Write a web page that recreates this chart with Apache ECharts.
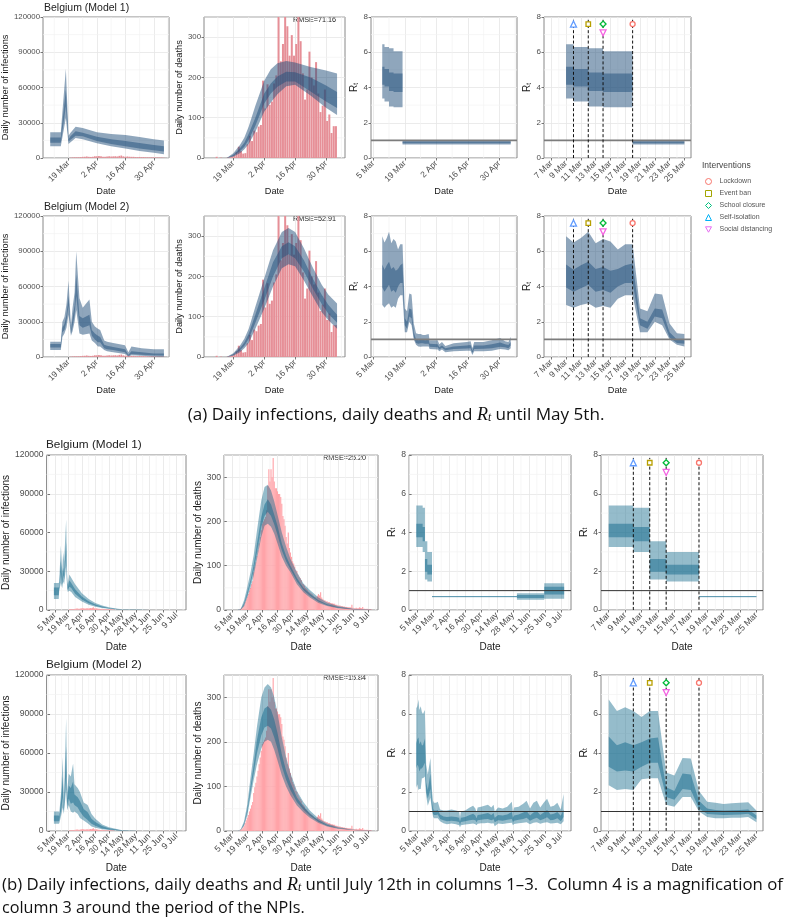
<!DOCTYPE html>
<html>
<head>
<meta charset="utf-8">
<style>html,body{margin:0;padding:0;background:#fff}#c{width:792px;height:917px}</style>
<script src="https://cdn.jsdelivr.net/npm/echarts@6/dist/echarts.min.js"></script>
</head>
<body>
<div id="c"></div>
<script>
// Day index: 1 = 1 Mar, 32 = 1 Apr, 62 = 1 May, 93 = 1 Jun, 123 = 1 Jul
const ticksMay = [19,33,47,61];
const ticksMayR = [5,19,33,47,61];
const ticksJul = [5,19,33,47,61,75,89,103,117,131];
const ticksZoom = [7,9,11,13,15,17,19,21,23,25];
const ticksInf = [0,30000,60000,90000,120000];
const ticksDeaths = [0,100,200,300];
const ticksRt = [0,2,4,6,8];

// Reported daily deaths
const deathsMayStart = 11.5;
const deathsMay = [3,0,1,0,0,1,2,4,7,14,28,17,11,12,34,55,42,68,64,78,
 82,192,123,183,132,140,185,205,403,240,283,365,327,254,305,254,283,380,290,210,145,170,264,200,180,238,160,114,130,170,
 92,108,62,79,79];
const deathsJulStart = 12;
const deathsJul = [1,3,5,8,12,18,24,30,36,44,50,58,65,85,98,108,122,135,150,165,
 180,195,200,205,210,225,280,318,290,318,300,343,290,275,275,268,262,262,255,240,212,205,190,165,150,175,140,130,120,110,
 105,98,90,88,80,75,72,68,60,58,55,50,48,45,42,40,38,36,33,30,30,28,32,36,33,40,28,25,22,22,20,
 20,18,18,16,15,15,14,14,12,12,11,10,10,9,9,8,8,7,7,6,6,6,6,12,5,4,4,5,4,4,
 6,5,4,7,3,3,2,3,2,2,2,1];
// Reported daily cases
const casesStart = 20;
const cases = [300,500,600,580,620,750,1000,1050,1300,1000,900,1000,1400,1400,1600,1400,1100,1100,1300,1400,1200,1400,1500,1300,1800,2100,1400,1100,1300,1100,1000,1000,800,700,900,700,800,600,600,550,600,600,500,500,400,350,300];

// Infections, Model 1, until 5 May
const inf1Day = [10,15.2,17.7,19,20,22.5,26,33,40,47,54,61,66];
const inf1Hi95 = [22000,22000,76000,19000,21500,26500,25500,22000,20500,19500,17800,16000,14800];
const inf1Lo95 = [10000,10000,34000,12000,13500,17000,16000,12500,10000,8000,6000,4500,3200];
const inf1Hi50 = [17500,17500,58000,16000,18500,22800,21500,18000,16000,14500,12800,11000,10000];
const inf1Lo50 = [13000,13000,44000,14000,15500,19000,18500,14500,12000,10000,8000,6500,5500];
// Infections, Model 2, until 5 May
const inf2Day = [10,15.2,16,17,18,19,20.2,21,22,22.8,24.4,26,29.3,30.5,32,33.5,34.6,36.6,38,41,46.8,48.5,50,55,61,66];
const inf2Hi95 = [13000,13000,30000,34000,45000,65000,27000,42000,55000,90000,50000,42000,49000,30000,26000,24000,23000,14000,13000,12000,10000,4000,9000,7500,6500,6500];
const inf2Lo95 = [6000,6000,17000,20000,25000,36000,18000,22000,30000,40000,20000,19000,20000,14000,12000,9000,9000,6000,5000,4000,2500,500,1500,1000,500,300];
const inf2Hi50 = [11000,11000,25000,28000,36000,52000,22000,33000,44000,70000,35000,33000,36000,23000,20000,18000,17000,10500,9500,8500,6500,2000,5000,4000,3000,3000];
const inf2Lo50 = [8000,8000,21000,23000,30000,44000,20000,26000,36000,52000,27000,25000,27000,18000,15000,12500,12500,7500,6500,6000,4000,1000,2500,2000,1500,1200];
// Infections, Model 1, until 12 Jul
const inf3Day = [4,9,9.5,11.2,12.6,13.6,14.6,16.7,17.7,18.4,20,22,26,33,40,47,54,61,68,75,89,103,133];
const inf3Hi95 = [21000,21000,22000,50000,30000,45000,38000,70000,28000,20000,27500,25000,20000,13000,8500,5500,3500,2200,1200,600,150,40,0];
const inf3Lo95 = [8500,8500,15000,21000,17000,22000,20000,34000,17000,14000,15000,14000,10000,6500,4000,2500,1500,900,500,250,60,20,0];
const inf3Hi50 = [17500,17500,18000,38000,24000,33000,28000,52000,22000,17000,23000,21000,16000,10500,6800,4200,2700,1600,900,450,110,30,0];
const inf3Lo50 = [11500,11500,16500,29000,20000,27000,24000,42000,19000,15500,18000,17000,12500,8200,5200,3200,2000,1200,650,320,80,25,0];
// Infections, Model 2, until 12 Jul
const inf4Day = [4,9,9.6,11.5,13.2,14.3,16.7,17.7,19.4,21.5,23.9,25.3,28.7,31,34.9,39,43,47,54,61,75,93,133];
const inf4Hi95 = [15000,15000,14000,30000,57000,20000,87000,30000,44000,42000,52000,36000,33000,30000,22000,20000,13000,9500,5000,2800,600,80,0];
const inf4Lo95 = [5500,5500,6000,12000,18000,13000,32000,16000,20000,15000,14000,15000,13000,10000,8000,6000,3500,2500,1300,800,150,20,0];
const inf4Hi50 = [12000,12000,11000,24000,42000,18000,65000,25000,35000,33000,38000,28000,26000,23000,17000,14500,9500,7000,3800,2100,450,60,0];
const inf4Lo50 = [7500,7500,8000,16000,26000,15000,42000,19000,25000,21000,22000,20000,18000,15000,11000,8500,5500,4000,2000,1200,250,30,0];

// Modelled deaths, Model 1, until 5 May
const dea1Day = [16,19,22,24,26,29,33,36,39,43,47,54,61,66];
const dea1Hi95 = [0,12,32,50,78,130,192,220,235,241,237,226,217,210];
const dea1Hi50 = [0,8,24,38,60,100,160,185,202,214,213,200,180,164];
const dea1Lo50 = [0,5,17,28,45,80,135,160,177,190,190,165,140,124];
const dea1Lo95 = [0,3,12,22,35,65,115,138,158,178,182,155,125,107];
// Modelled deaths, Model 2, until 5 May
const dea2Day = [16,19,22,24,26,29,33,37,41,44,47,51,55,59,62,66];
const dea2Hi95 = [0,9,28,45,70,125,195,265,310,320,310,270,222,180,155,133];
const dea2Hi50 = [0,7,22,36,58,105,170,235,275,285,275,240,195,155,130,105];
const dea2Lo50 = [0,5,16,28,45,85,140,200,245,255,245,212,170,132,108,85];
const dea2Lo95 = [0,3,12,22,35,70,120,175,220,230,225,190,150,112,92,70];
// Modelled deaths until 12 Jul
const deaJulDay = [10,13,16,19,22,25,28,32,35,38,41,44,47,51,55,59,65,71,77,85,93,103,117,134];
const dea3Hi95 = [0,3,22,52,85,125,180,248,278,283,270,245,215,175,143,115,85,60,45,28,17,9,3,0.5];
const dea3Hi50 = [0,2,15,40,68,103,150,210,238,250,238,215,190,150,122,100,72,50,37,22,13,7,2,0.3];
const dea3Lo50 = [0,1,12,34,60,90,130,188,212,222,212,193,170,135,110,92,65,45,32,19,11,5,1.5,0.2];
const dea3Lo95 = [0,1,8,28,50,78,115,165,190,195,188,172,150,120,100,85,58,40,28,16,9,4,1,0];
const dea4Hi95 = [0,4,22,60,120,175,235,300,322,330,322,300,265,210,165,130,90,65,46,28,17,9,3,0.5];
const dea4Hi50 = [0,3,17,48,100,150,205,255,275,280,272,250,220,172,135,108,75,55,39,24,14,7,3,0.3];
const dea4Lo50 = [0,2,14,42,88,130,175,215,232,236,230,210,185,145,115,92,65,48,34,21,12,6,2,0.2];
const dea4Lo95 = [0,2,12,35,75,115,150,185,200,205,200,182,158,125,100,80,57,42,30,18,10,5,2,0];

// Rt, Model 1, until 5 May
const rt1Day =  [9,10,10,12,12,14,14,18,18,25,66];
const rt1Hi95 = [6.45,6.45,6.3,6.3,6.22,6.22,6.05,6.05,1.0,1.0,1.0];
const rt1Lo95 = [3.37,3.37,3.2,3.2,2.92,2.92,2.88,2.88,0.76,0.76,0.76];
const rt1Hi50 = [5.18,5.18,5.05,5.05,4.85,4.85,4.8,4.8,0.94,0.94,0.94];
const rt1Lo50 = [4.15,4.15,4.05,4.05,3.8,3.8,3.75,3.75,0.83,0.83,0.83];
// Rt, Model 2, until 5 May
const rt2Day =  [9,10,11,12,13,14,15,16,17,18,19,20,21,22,23,24,25,26,27,28,29.6,30,33.6,34.3,35.5,37,40.7,46.5,48.2,49,49.8,53.9,57.6,61.3,63.5,65,66];
const rt2Hi95 = [6.85,6.5,6.75,7.1,6.45,6.7,6.55,6.1,6.4,6.4,2.75,2.6,3.6,3.55,1.9,1.35,1.3,1.3,1.25,1.25,1.3,0.95,0.95,0.72,0.85,0.62,0.78,0.85,0.9,0.5,0.85,0.85,0.95,1.08,0.9,0.85,1.15];
const rt2Lo95 = [2.95,2.8,2.95,3.05,2.8,2.9,2.8,3.3,3.5,3.5,1.4,1.4,2.0,1.8,1.0,0.7,0.6,0.58,0.6,0.6,0.6,0.45,0.42,0.32,0.42,0.27,0.33,0.35,0.35,0.12,0.32,0.32,0.36,0.45,0.42,0.38,0.5];
const rt2Hi50 = [5.25,4.95,5.2,5.4,5.0,5.1,4.9,5.0,5.2,5.3,2.2,2.0,2.75,2.7,1.4,1.0,0.95,0.98,0.98,0.95,0.98,0.75,0.72,0.55,0.65,0.5,0.6,0.65,0.68,0.35,0.65,0.65,0.72,0.82,0.72,0.68,0.85];
const rt2Lo50 = [3.95,3.7,3.9,4.1,3.7,3.8,3.65,4.0,4.2,4.2,1.8,1.6,2.3,2.2,1.1,0.8,0.75,0.78,0.78,0.75,0.75,0.58,0.55,0.42,0.52,0.38,0.45,0.48,0.5,0.22,0.45,0.47,0.5,0.58,0.55,0.5,0.65];
// Rt, Model 1, until 12 Jul (wide panel)
const rt3wDay =  [4.1,9.7,9.7,11.7,11.7,13.8,13.8,17.9,17.9,92.5,92.5,116.5,116.5,134];
const rt3wHi95 = [5.4,5.4,5.28,5.28,3.55,3.55,3.0,3.0,0.72,0.72,0.87,0.87,1.38,1.38];
const rt3wLo95 = [3.25,3.25,3.0,3.0,1.58,1.58,1.47,1.47,0.66,0.66,0.53,0.53,0.58,0.58];
const rt3wHi50 = [4.45,4.45,4.28,4.28,2.63,2.63,2.33,2.33,0.71,0.71,0.78,0.78,1.2,1.2];
const rt3wLo50 = [3.75,3.75,3.55,3.55,1.97,1.97,1.83,1.83,0.67,0.67,0.62,0.62,0.8,0.8];
// Rt, Model 1, magnified
const rt3zDay =  [7,10,10,12,12,14,14,18,18,25];
const rt3zHi95 = [5.4,5.4,5.28,5.28,3.55,3.55,3.0,3.0,0.72,0.72];
const rt3zLo95 = [3.25,3.25,3.0,3.0,1.58,1.58,1.47,1.47,0.66,0.66];
const rt3zHi50 = [4.45,4.45,4.28,4.28,2.63,2.63,2.33,2.33,0.71,0.71];
const rt3zLo50 = [3.75,3.75,3.55,3.55,1.97,1.97,1.83,1.83,0.67,0.67];
// Rt, Model 2, until 12 Jul (wide panel)
const rt4wDay =  [4.1,5,6,6.8,8,9,10,11.6,12.8,14.2,16.5,18,18.8,19.6,20.5,21.5,23,25,28,31,35,39,41.7,42.5,43.3,47,51,54,56,57,58,61,64,67,70,72,73,76,80,84,88,89,90,94,98,101,104,107,110,113,116,119,122,125,128,131,133.5];
const rt4wHi95 = [6.3,6.4,6.75,6.2,6.4,6.1,6.0,6.2,3.4,2.9,3.75,2.0,1.55,1.45,1.45,1.45,1.5,1.1,1.05,1.05,1.1,1.05,1.0,0.7,1.0,1.05,1.2,1.3,1.15,0.95,1.2,1.25,1.3,1.35,1.2,1.35,1.0,1.2,1.15,1.25,1.5,0.95,1.2,1.25,1.4,1.55,1.15,1.45,1.55,1.2,1.45,1.65,1.25,1.3,1.45,1.1,1.9];
const rt4wLo95 = [2.2,2.4,2.1,2.15,2.15,2.7,2.7,2.8,1.8,1.3,1.7,1.0,0.75,0.65,0.65,0.65,0.65,0.5,0.4,0.35,0.38,0.35,0.3,0.18,0.3,0.33,0.36,0.38,0.35,0.3,0.37,0.4,0.4,0.42,0.38,0.4,0.25,0.38,0.36,0.4,0.42,0.3,0.36,0.4,0.42,0.45,0.35,0.42,0.45,0.37,0.42,0.45,0.38,0.4,0.42,0.35,0.5];
const rt4wHi50 = [4.5,4.7,4.8,4.45,4.6,4.4,4.4,4.75,2.5,2.1,2.95,1.5,1.15,1.05,1.05,1.05,1.08,0.85,0.75,0.72,0.75,0.72,0.68,0.48,0.68,0.72,0.82,0.88,0.8,0.65,0.82,0.85,0.88,0.92,0.82,0.92,0.68,0.82,0.8,0.85,0.98,0.68,0.8,0.85,0.95,1.02,0.8,0.95,1.02,0.82,0.95,1.08,0.85,0.88,0.98,0.78,1.1];
const rt4wLo50 = [3.2,3.4,3.3,3.05,3.2,3.2,3.3,3.5,2.0,1.65,2.15,1.15,0.88,0.82,0.82,0.82,0.85,0.62,0.55,0.5,0.52,0.5,0.46,0.3,0.46,0.5,0.55,0.58,0.55,0.45,0.55,0.58,0.6,0.62,0.55,0.6,0.45,0.55,0.53,0.58,0.62,0.45,0.53,0.58,0.62,0.68,0.52,0.62,0.68,0.55,0.62,0.7,0.55,0.58,0.65,0.5,0.72];
// Rt, Model 2, magnified
const rt4zDay =  [7,8,9,10,11,12,13,14,15,16,17,18,19,20,21,22,23,24,25];
const rt4zHi95 = [6.75,6.15,6.35,6.15,5.85,6.15,6.15,3.0,2.85,3.75,3.72,2.05,1.5,1.45,1.38,1.42,1.45,1.47,1.05];
const rt4zLo95 = [2.35,2.1,2.15,2.1,2.65,2.7,2.7,1.35,1.25,1.75,1.75,1.0,0.72,0.65,0.65,0.68,0.68,0.72,0.45];
const rt4zHi50 = [4.85,4.4,4.55,4.4,4.55,4.75,4.8,2.25,2.05,2.95,2.9,1.55,1.15,1.08,1.05,1.07,1.08,1.1,0.8];
const rt4zLo50 = [3.3,3.05,3.1,3.05,3.3,3.5,3.5,1.75,1.6,2.15,2.1,1.15,0.87,0.85,0.82,0.83,0.85,0.88,0.6];

// Interventions
const interventions = ['Lockdown','Event ban','School closure','Self-isolation','Social distancing'];
const interventionDay = [18,12,14,10,14];
const interventionY = [7.6,7.6,7.6,7.6,7.1];
const npiLines = [10,12,14,18];
const rmse = ['RMSE=71.16','RMSE=52.91','RMSE=25.20','RMSE=15.84'];

const triDown = 'path://M0 0L10 0L5 9Z';
const squareIcon = 'path://M0 0L10 0L10 10L0 10Z';
const markerSymbols = ['circle',squareIcon,'diamond','triangle',triDown];
const markerColors = ['#F8766D','#B79F00','#00BA38','#619CFF','#F564E3'];
const legendColors = ['#F8766D','#A3A500','#00BF7D','#00B0F6','#E76BF3'];

const FONT = '"Liberation Sans", Arial, sans-serif';
const TICK = '#4d4d4d';
const bandA = {o:'rgba(31,78,121,0.5)', i:'rgba(31,78,121,0.5)', bar:'#e68f97', line:'#7c7c7c', lw:1.6};
const bandB = {o:'rgba(10,100,135,0.43)', i:'rgba(10,100,135,0.47)', bar:'#ffa3a8', line:'#333333', lw:1};

function dateLabel(d){
  if (d<=31) return d+' Mar';
  if (d<=61) return (d-31)+' Apr';
  if (d<=92) return (d-61)+' May';
  if (d<=122) return (d-92)+' Jun';
  return (d-122)+' Jul';
}
function seq(start,vals){ return vals.map((v,i)=>[start+i,v]); }

const rowsY = [[17,158],[216,357],[455,610],[675,831]];
const colsA = [[43,169,6.44,68.5],[204,345,5.74,69.6],[371,517,4,68.8],[544,691,6.01,25.9]];
const colsB = [[46,186,-3.6,141],[224,378,-2.6,140.2],[409,571,-2.3,140],[601,763,6.06,25.8]];

const band = (d,a,b,c,e)=>({d,lo95:a,hi95:b,lo50:c,hi50:e});
const panelData = [
 [band(inf1Day,inf1Lo95,inf1Hi95,inf1Lo50,inf1Hi50),band(dea1Day,dea1Lo95,dea1Hi95,dea1Lo50,dea1Hi50),band(rt1Day,rt1Lo95,rt1Hi95,rt1Lo50,rt1Hi50),band(rt1Day,rt1Lo95,rt1Hi95,rt1Lo50,rt1Hi50)],
 [band(inf2Day,inf2Lo95,inf2Hi95,inf2Lo50,inf2Hi50),band(dea2Day,dea2Lo95,dea2Hi95,dea2Lo50,dea2Hi50),band(rt2Day,rt2Lo95,rt2Hi95,rt2Lo50,rt2Hi50),band(rt2Day,rt2Lo95,rt2Hi95,rt2Lo50,rt2Hi50)],
 [band(inf3Day,inf3Lo95,inf3Hi95,inf3Lo50,inf3Hi50),band(deaJulDay,dea3Lo95,dea3Hi95,dea3Lo50,dea3Hi50),band(rt3wDay,rt3wLo95,rt3wHi95,rt3wLo50,rt3wHi50),band(rt3zDay,rt3zLo95,rt3zHi95,rt3zLo50,rt3zHi50)],
 [band(inf4Day,inf4Lo95,inf4Hi95,inf4Lo50,inf4Hi50),band(deaJulDay,dea4Lo95,dea4Hi95,dea4Lo50,dea4Hi50),band(rt4wDay,rt4wLo95,rt4wHi95,rt4wLo50,rt4wHi50),band(rt4zDay,rt4zLo95,rt4zHi95,rt4zLo50,rt4zHi50)]
];

const grids=[],xAxes=[],yAxes=[],series=[];

function polySeries(idx,xs,lo,hi,color,z,maxX){
  const rows=[];
  xs.forEach((x,k)=>{ if(x<=maxX) rows.push([x,lo[k],hi[k]]); });
  series.push({
    type:'custom', xAxisIndex:idx, yAxisIndex:idx, clip:true, silent:true, z, animation:false,
    data:rows, encode:{x:0,y:1},
    renderItem(params,api){
      if(params.dataIndexInside!==0) return null;
      const n=params.dataInsideLength, pts=[];
      for(let i=0;i<n;i++) pts.push(api.coord([api.value(0,i),api.value(2,i)]));
      for(let i=n-1;i>=0;i--) pts.push(api.coord([api.value(0,i),api.value(1,i)]));
      return {type:'polygon',shape:{points:pts},style:{fill:color}};
    }
  });
}
function minorSeries(idx,xVals,yVals){
  const rows=xVals.map(v=>[v,0,1]).concat(yVals.map(v=>[0,v,0]));
  series.push({
    type:'custom', xAxisIndex:idx, yAxisIndex:idx, silent:true, z:0, animation:false, clip:false,
    data:rows, encode:{x:0,y:1},
    renderItem(params,api){
      const cs=params.coordSys, isX=api.value(2)===1;
      const p=api.coord([api.value(0),api.value(1)]);
      const shape=isX?{x1:p[0],y1:cs.y,x2:p[0],y2:cs.y+cs.height}:{x1:cs.x,y1:p[1],x2:cs.x+cs.width,y2:p[1]};
      return {type:'line',shape,style:{stroke:'#f2f2f2',lineWidth:0.7}};
    }
  });
}
function midpoints(t,min,max){
  const out=[], step=t[1]-t[0];
  for(let v=t[0]-step/2;v<max;v+=step) if(v>min) out.push(v);
  return out;
}

for(let r=0;r<4;r++){
  const late=r>=2, cols=late?colsB:colsA, st=late?bandB:bandA;
  const nameSize=late?10:9.2;
  for(let c=0;c<4;c++){
    const idx=grids.length, [l,rt,xMin,xMax]=cols[c], [top,bot]=rowsY[r];
    grids.push({left:l,top,width:rt-l,height:bot-top,show:true,borderColor:'#888888',borderWidth:1,backgroundColor:'transparent'});
    const xt = c===3?ticksZoom:(late?ticksJul:(c===2?ticksMayR:ticksMay));
    const yt = c===0?ticksInf:(c===1?ticksDeaths:ticksRt);
    const yMax = c===0?120000:(c===1?350:8);
    xAxes.push({type:'value',gridIndex:idx,min:xMin,max:xMax,
      axisLine:{show:false},axisTick:{show:true,length:2.5,lineStyle:{color:'#555',width:0.8},customValues:xt},
      splitLine:{show:true,lineStyle:{color:'#e6e6e6',width:0.8}},
      axisLabel:{customValues:xt,rotate:45,fontSize:late?8.8:8.5,margin:4,color:TICK,fontFamily:FONT,formatter:v=>dateLabel(v),hideOverlap:false},
      name:'Date',nameLocation:'middle',nameGap:late?32:27,nameTextStyle:{fontSize:nameSize,color:'#1a1a1a',fontFamily:FONT}});
    const yGap = late?[34,20,12,12][c]:[30.5,18,9,9][c];
    yAxes.push({type:'value',gridIndex:idx,min:0,max:yMax,
      axisLine:{show:false},axisTick:{show:true,length:2.5,lineStyle:{color:'#555',width:0.8},customValues:yt},
      splitLine:{show:true,lineStyle:{color:'#e6e6e6',width:0.8}},
      axisLabel:{customValues:yt,fontSize:late?8.6:(c>=2?8:7.8),margin:3,color:TICK,fontFamily:FONT,formatter:v=>String(v)},
      name:c===0?'Daily number of infections':(c===1?'Daily number of deaths':'{a|R}{b|t}'),
      nameLocation:'middle',nameRotate:90,nameGap:yGap,
      nameTextStyle:{fontSize:nameSize,color:'#1a1a1a',fontFamily:FONT,
        rich:{a:{fontSize:late?11:10,fontFamily:FONT,color:'#1a1a1a'},b:{fontSize:6.5,fontFamily:FONT,color:'#1a1a1a',verticalAlign:'bottom'}}}});
    minorSeries(idx,midpoints(xt,xMin,xMax),midpoints(yt,0,yMax+0.001));

    if(c===0||c===1){
      let barData, w;
      if(c===0){ barData=seq(casesStart,cases); w=late?0.95:1.7; }
      else if(late){ barData=seq(deathsJulStart,deathsJul); w=1.12; }
      else { barData=seq(deathsMayStart,deathsMay); w=2; }
      series.push({type:'bar',name:c===0?'Reported cases':'Reported deaths',xAxisIndex:idx,yAxisIndex:idx,
        data:barData,barWidth:w,itemStyle:{color:st.bar},z:1,silent:true,animation:false});
    }
    const b=panelData[r][c], lim=c===3?25:Infinity;
    polySeries(idx,b.d,b.lo95,b.hi95,st.o,2,lim);
    polySeries(idx,b.d,b.lo50,b.hi50,st.i,3,lim);

    if(c>=2){
      series.push({type:'line',name:'R=1',xAxisIndex:idx,yAxisIndex:idx,data:[[xMin,1],[xMax,1]],
        showSymbol:false,lineStyle:{color:st.line,width:st.lw},z:4,silent:true,animation:false});
    }
    if(c===3){
      npiLines.forEach(d=>series.push({type:'line',name:'NPI',xAxisIndex:idx,yAxisIndex:idx,data:[[d,0],[d,7.85]],
        showSymbol:false,lineStyle:{color:'#111',width:1,type:[3,2.2]},z:5,silent:true,animation:false}));
      interventions.forEach((nm,k)=>series.push({type:'scatter',name:nm,xAxisIndex:idx,yAxisIndex:idx,
        data:[[interventionDay[k],interventionY[k]]],symbol:markerSymbols[k],symbolSize:k===1?4.5:(k===2?6:(k===0?5:6)),
        itemStyle:{color:'#ffffff',borderColor:markerColors[k],borderWidth:1.3,opacity:1},z:6,silent:true,animation:false}));
    }
  }
}

const graphic=[];
function txt(x,y,text,extra){
  graphic.push({type:'text',x,y,silent:true,style:Object.assign({text,fontFamily:FONT,fontSize:10.5,fill:'#222',verticalAlign:'middle',align:'left'},extra||{})});
}
txt(44,8,'Belgium (Model 1)');
txt(44,207,'Belgium (Model 2)');
txt(46,445,'Belgium (Model 1)',{fontSize:11.8});
txt(46,665,'Belgium (Model 2)',{fontSize:11.8});
txt(293,20,rmse[0],{fontSize:7.2,fill:'#222'});
txt(293,219,rmse[1],{fontSize:7.2,fill:'#222'});
txt(323,458,rmse[2],{fontSize:7.2,fill:'#222'});
txt(323,678,rmse[3],{fontSize:7.2,fill:'#222'});
txt(702,166,'Interventions',{fontSize:8.5,fill:'#444'});

const CAP='"Open Sans", Lato, sans-serif';
const mathRich={i:{fontFamily:'"Liberation Serif",serif',fontStyle:'italic',fontSize:18,fill:'#111'},s:{fontFamily:'"Liberation Serif",serif',fontStyle:'italic',fontSize:11.5,verticalAlign:'bottom',fill:'#111'}};
txt(396,415,'(a) Daily infections, daily deaths and {i|R}{s|t} until May 5th.',{fontFamily:CAP,fontSize:17.1,fill:'#111',align:'center',rich:mathRich});
txt(2,885,'(b) Daily infections, daily deaths and {i|R}{s|t} until July 12th in columns 1–3.  Column 4 is a magnification of',{fontFamily:CAP,fontSize:16.8,fill:'#111',rich:mathRich});
txt(2,908,'column 3 around the period of the NPIs.',{fontFamily:CAP,fontSize:16.2,fill:'#111'});

const chart=echarts.init(document.getElementById('c'),null,{renderer:'canvas',width:792,height:917});
chart.setOption({
  animation:false,backgroundColor:'#fff',
  grid:grids,xAxis:xAxes,yAxis:yAxes,series,graphic,
  legend:{show:true,orient:'vertical',left:705,top:178,itemWidth:6,itemHeight:6,itemGap:5,
    selectedMode:false,textStyle:{fontSize:7,color:'#555',fontFamily:FONT,padding:[0,0,0,3]},padding:0,
    data:interventions.map((n,k)=>({name:n,icon:markerSymbols[k],
      itemStyle:{color:'rgba(255,255,255,0)',borderColor:legendColors[k],borderWidth:1}}))}
});
</script>
</body>
</html>
